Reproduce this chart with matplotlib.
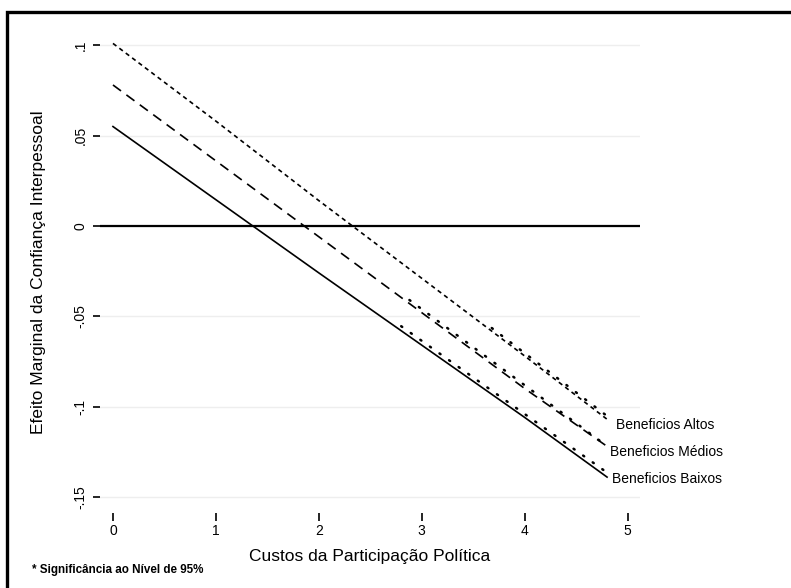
import matplotlib.pyplot as plt
from matplotlib.patches import Rectangle


# custos da participacao politica (eixo x)
custos = [0, 1, 2, 3, 4, 4.8]

# efeito marginal
baixos = [0.055, 0.0145, -0.026, -0.066, -0.106, -0.139]
medios = [0.078, 0.036, -0.006, -0.048, -0.090, -0.122]
altos = [0.101, 0.058, 0.014, -0.029, -0.072, -0.107]

# trechos significativos (pontilhados)
sig_baixos_x = [2.8, 4.8]
sig_baixos_y = [-0.0555, -0.1365]
sig_medios_x = [2.88, 4.78]
sig_medios_y = [-0.041, -0.121]
sig_altos_x = [3.68, 4.8]
sig_altos_y = [-0.0565, -0.1052]

rotulos = ["Beneficios Altos", "Beneficios Médios", "Beneficios Baixos"]
rotulos_x = [4.89, 4.83, 4.85]
rotulos_y = [-0.110, -0.125, -0.140]

yticks = [-0.15, -0.1, -0.05, 0, 0.05, 0.1]
ytick_labels = ["-.15", "-.1", "-.05", "0", ".05", ".1"]
xticks = [0, 1, 2, 3, 4, 5]


def main():
    plt.rcParams["font.family"] = ["Liberation Sans", "DejaVu Sans"]

    fig = plt.figure(figsize=(7.91, 5.88), dpi=100)
    ax = fig.add_axes([100 / 791, 1 - 506 / 588, 540 / 791, (506 - 38) / 588])

    # moldura externa (cortada a direita e embaixo)
    fig.patches.append(Rectangle((7 / 791, -0.1), 1.2, 1.1 - 12 / 588,
                                 transform=fig.transFigure, fill=False,
                                 edgecolor="black", linewidth=2.4))

    for y in yticks:
        ax.axhline(y, color="#eeeeee", linewidth=1.0, zorder=0)
    ax.axhline(0, color="black", linewidth=1.6, zorder=1)

    ax.plot(custos, baixos, color="black", linewidth=1.2, linestyle="-")
    ax.plot(custos, medios, color="black", linewidth=1.2, linestyle=(0, (6, 4)))
    ax.plot(custos, altos, color="black", linewidth=1.2, linestyle=(0, (2.6, 2.2)))

    for xs, ys in [(sig_baixos_x, sig_baixos_y), (sig_medios_x, sig_medios_y),
                   (sig_altos_x, sig_altos_y)]:
        ax.plot(xs, ys, color="black", linewidth=1.8, linestyle=(0, (0.5, 4.2)),
                dash_capstyle="round")

    for texto, tx, ty in zip(rotulos, rotulos_x, rotulos_y):
        ax.text(tx, ty, texto, fontsize=10, ha="left", va="center")

    ax.set_xlim(-0.126, 5.12)
    ax.set_ylim(-0.155, 0.104)

    ax.set_yticks(yticks)
    ax.set_yticklabels(ytick_labels, rotation=90, va="center", fontsize=10)
    ax.set_xticks(xticks)
    ax.set_xticklabels([str(v) for v in xticks], fontsize=10)

    for side in ["top", "right", "left", "bottom"]:
        ax.spines[side].set_visible(False)
    ax.spines["bottom"].set_position(("outward", 5))

    ax.tick_params(axis="y", length=5, width=1.2, pad=4)
    ax.tick_params(axis="x", length=6, width=1.2, pad=2)

    ax.set_xlabel("Custos da Participação Política", fontsize=12.5, labelpad=8)
    ax.set_ylabel("Efeito Marginal da Confiança Interpessoal", fontsize=12.5, labelpad=20)

    fig.text(32 / 791, 1 - 570 / 588, "* Significância ao Nível de 95%",
             fontsize=8.4, fontweight="bold", ha="left", va="center")

    fig.savefig("out.png", dpi=100)
    plt.close(fig)


if __name__ == "__main__":
    main()
